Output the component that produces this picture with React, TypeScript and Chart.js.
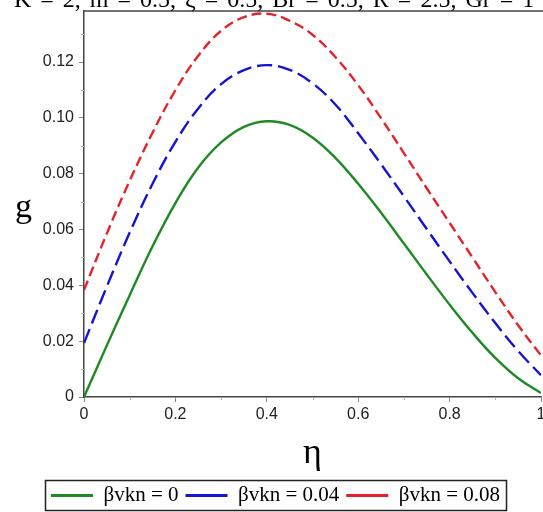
import React, { useEffect, useRef } from 'react';
import { Chart, registerables } from 'chart.js';

Chart.register(...registerables);

// ---- data ----
const eta = [0, 0.05, 0.1, 0.15, 0.2, 0.25, 0.3, 0.35, 0.4, 0.45, 0.5, 0.55, 0.6, 0.65, 0.7, 0.75, 0.8, 0.85, 0.9, 0.95, 1];
const gBeta0 = [0, 0.0185, 0.0365, 0.054, 0.0695, 0.0822, 0.0912, 0.0968, 0.0988, 0.0975, 0.093, 0.0857, 0.0764, 0.066, 0.055, 0.0439, 0.0331, 0.023, 0.014, 0.0067, 0.0014];
const gBeta004 = [0.0193, 0.0396, 0.0589, 0.0764, 0.0914, 0.1034, 0.1121, 0.1171, 0.1189, 0.1172, 0.1124, 0.1048, 0.0945, 0.0834, 0.0719, 0.0602, 0.0486, 0.0373, 0.0265, 0.0165, 0.0078];
const gBeta008 = [0.0383, 0.0586, 0.0775, 0.0947, 0.1099, 0.1223, 0.1312, 0.1361, 0.1373, 0.1348, 0.1298, 0.1218, 0.1117, 0.0999, 0.0874, 0.0748, 0.0624, 0.05, 0.0376, 0.0257, 0.0149];
const seriesLabels = ['βvkn = 0', 'βvkn = 0.04', 'βvkn = 0.08'];
const xTicks = [0, 0.2, 0.4, 0.6, 0.8, 1];
const yTicks = [0, 0.02, 0.04, 0.06, 0.08, 0.1, 0.12];
const xMinorTicks = [0.1, 0.3, 0.5, 0.7, 0.9];
const yMinorTicks = [0.01, 0.03, 0.05, 0.07, 0.09, 0.11, 0.13];
const titleText = 'K = 2, m = 0.5, ξ = 0.5, Br = 0.5, R = 2.5, Gr = 1';
const xTitle = 'η';
const yTitle = 'g';

const SERIF = '"Liberation Serif", "Times New Roman", serif';
const SANS = '"Liberation Sans", Arial, sans-serif';

const decor = {
  id: 'decor',
  afterDraw(chart: any) {
    const { ctx, chartArea: ca, scales, width } = chart;
    const xs = scales.x;
    const ys = scales.y;
    ctx.save();
    // top frame line
    ctx.strokeStyle = '#444';
    ctx.lineWidth = 1.5;
    ctx.beginPath();
    ctx.moveTo(ca.left, ca.top);
    ctx.lineTo(width, ca.top);
    ctx.stroke();
    // minor ticks
    ctx.strokeStyle = '#b0b0b0';
    ctx.lineWidth = 1;
    ctx.beginPath();
    yMinorTicks.forEach((v) => {
      const py = Math.round(ys.getPixelForValue(v)) + 0.5;
      ctx.moveTo(ca.left - 3, py);
      ctx.lineTo(ca.left, py);
    });
    xMinorTicks.forEach((v) => {
      const px = Math.round(xs.getPixelForValue(v)) + 0.5;
      ctx.moveTo(px, ca.bottom);
      ctx.lineTo(px, ca.bottom + 3);
    });
    ctx.stroke();
    // title (clipped at top as in the reference)
    ctx.fillStyle = '#000';
    ctx.textAlign = 'left';
    ctx.textBaseline = 'alphabetic';
    ctx.font = `24px ${SERIF}`;
    (ctx as any).wordSpacing = '3px';
    ctx.fillText(titleText, 14, 7);
    (ctx as any).wordSpacing = '0px';
    // axis titles
    ctx.font = `34px ${SERIF}`;
    ctx.fillText(yTitle, 15, 217);
    ctx.textAlign = 'center';
    ctx.font = `36px ${SERIF}`;
    ctx.fillText(xTitle, (ca.left + ca.right) / 2, 463);
    // legend border
    const lg = chart.legend;
    if (lg && lg.legendHitBoxes && lg.legendHitBoxes.length) {
      const hb = lg.legendHitBoxes;
      const l = Math.min(...hb.map((h: any) => h.left)) - 6;
      const r = Math.max(...hb.map((h: any) => h.left + h.width)) + 6;
      const t = hb[0].top - 5;
      const b = hb[0].top + hb[0].height + 4;
      ctx.strokeStyle = '#222';
      ctx.lineWidth = 1.5;
      ctx.strokeRect(Math.round(l) + 0.5, Math.round(t) + 0.5, Math.round(r - l), Math.round(b - t));
    }
    ctx.restore();
  },
};

export default function App() {
  const ref = useRef<HTMLCanvasElement | null>(null);
  useEffect(() => {
    if (!ref.current) return;
    const mk = (vals: number[]) => eta.map((x, i) => ({ x, y: vals[i] }));
    const chart = new Chart(ref.current, {
      type: 'line',
      data: {
        datasets: [
          { label: seriesLabels[0], data: mk(gBeta0), borderColor: '#1f8a24', borderWidth: 2.4, pointRadius: 0, tension: 0.4, fill: false },
          { label: seriesLabels[1], data: mk(gBeta004), borderColor: '#1414d2', borderWidth: 2.4, borderDash: [15, 6], pointRadius: 0, tension: 0.4, fill: false },
          { label: seriesLabels[2], data: mk(gBeta008), borderColor: '#e2242a', borderWidth: 2.4, borderDash: [10, 5], pointRadius: 0, tension: 0.4, fill: false },
        ],
      },
      options: {
        responsive: false,
        animation: false,
        devicePixelRatio: 1,
        layout: { padding: { top: 11, right: 2, left: 10, bottom: 0 } },
        plugins: {
          title: { display: false },
          tooltip: { enabled: false },
          legend: {
            position: 'bottom',
            labels: {
              usePointStyle: true,
              pointStyle: 'line',
              pointStyleWidth: 42,
              padding: 7,
              color: '#000',
              font: { family: SERIF, size: 21 },
              generateLabels: (c: any) =>
                (Chart.defaults.plugins.legend.labels as any).generateLabels(c).map((l: any) => ({ ...l, lineWidth: 3, pointStyle: 'line' })),
            },
          },
        },
        scales: {
          x: {
            type: 'linear',
            min: 0,
            max: 1,
            afterBuildTicks: (s: any) => {
              s.ticks = xTicks.map((v) => ({ value: v }));
            },
            afterFit: (s: any) => {
              s.height = 81;
              s.paddingLeft = 0;
              s.paddingRight = 0;
            },
            grid: { display: true, drawOnChartArea: false, drawTicks: true, tickLength: 5, tickColor: '#888', tickWidth: 1 },
            border: { display: true, color: '#444', width: 1.5 },
            ticks: {
              padding: 3,
              color: '#222',
              font: { family: SANS, size: 16 },
              maxRotation: 0,
              callback: (v: any) => String(v),
            },
          },
          y: {
            type: 'linear',
            min: 0,
            max: 0.1383,
            afterBuildTicks: (s: any) => {
              s.ticks = yTicks.map((v) => ({ value: v }));
            },
            afterFit: (s: any) => {
              s.width = 74;
              s.paddingTop = 0;
              s.paddingBottom = 0;
            },
            grid: { display: true, drawOnChartArea: false, drawTicks: true, tickLength: 5, tickColor: '#888', tickWidth: 1 },
            border: { display: true, color: '#444', width: 1.5 },
            ticks: {
              padding: 5,
              color: '#222',
              font: { family: SANS, size: 16 },
              callback: (v: any) => (Number(v) === 0 ? '0' : Number(v).toFixed(2)),
            },
          },
        },
      },
      plugins: [decor],
    });
    return () => chart.destroy();
  }, []);
  return (
    <div style={{ position: 'fixed', left: 0, top: 0, width: 543, height: 512, overflow: 'hidden', background: '#fff' }}>
      <canvas ref={ref} width={543} height={516} style={{ display: 'block', width: 543, height: 516 }} />
    </div>
  );
}
